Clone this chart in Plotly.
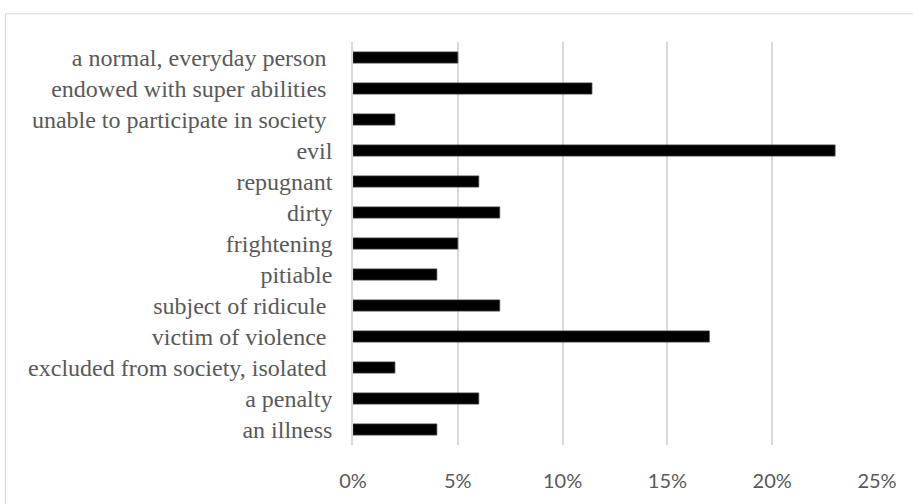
import plotly.graph_objects as go

categories = [
    "an illness",
    "a penalty",
    "excluded from society, isolated\u00a0",
    "victim of violence\u00a0",
    "subject of ridicule\u00a0",
    "pitiable",
    "frightening",
    "dirty",
    "repugnant",
    "evil",
    "unable to participate in society\u00a0",
    "endowed with super abilities\u00a0",
    "a normal, everyday person\u00a0",
]
values = [0.04, 0.06, 0.02, 0.17, 0.07, 0.04, 0.05, 0.07, 0.06, 0.23, 0.02, 0.114, 0.05]
tick_vals = [0, 0.05, 0.10, 0.15, 0.20, 0.25]
tick_text = ["0%", "5%", "10%", "15%", "20%", "25%"]

W, H = 913, 504
L, R, T, B = 353, 36, 42, 54
pw, ph = W - L - R, H - T - B

def px_x(x):
    return (x - L) / pw

def px_y(y):
    return (H - B - y) / ph

fig = go.Figure(go.Bar(
    x=values, y=categories, orientation="h",
    marker=dict(color="#000000", line=dict(color="#404040", width=0.8)),
    width=0.36,
))

fig.update_layout(
    width=W, height=H,
    margin=dict(l=L, r=R, t=T, b=B),
    paper_bgcolor="white", plot_bgcolor="white",
    showlegend=False,
    xaxis=dict(
        range=[0, 0.25], tickvals=tick_vals, ticktext=tick_text,
        showgrid=True, gridcolor="#d9d9d9", gridwidth=1.5,
        zeroline=False, showline=False,
        ticks="outside", ticklen=0, ticklabelstandoff=18,
        tickfont=dict(family="Lato", size=20, color="#595959"),
        fixedrange=True,
    ),
    yaxis=dict(
        showgrid=False, zeroline=False,
        showline=True, linecolor="#d9d9d9", linewidth=1.5,
        ticks="", ticklabelstandoff=14,
        tickfont=dict(family="Liberation Serif", size=24, color="#595959"),
        fixedrange=True,
    ),
    shapes=[dict(
        type="rect", xref="paper", yref="paper",
        x0=px_x(5.5), x1=px_x(925), y0=px_y(515), y1=px_y(13.5),
        line=dict(color="#d9d9d9", width=1), fillcolor="rgba(0,0,0,0)", layer="below",
    )],
)

fig.write_html("out.html")
